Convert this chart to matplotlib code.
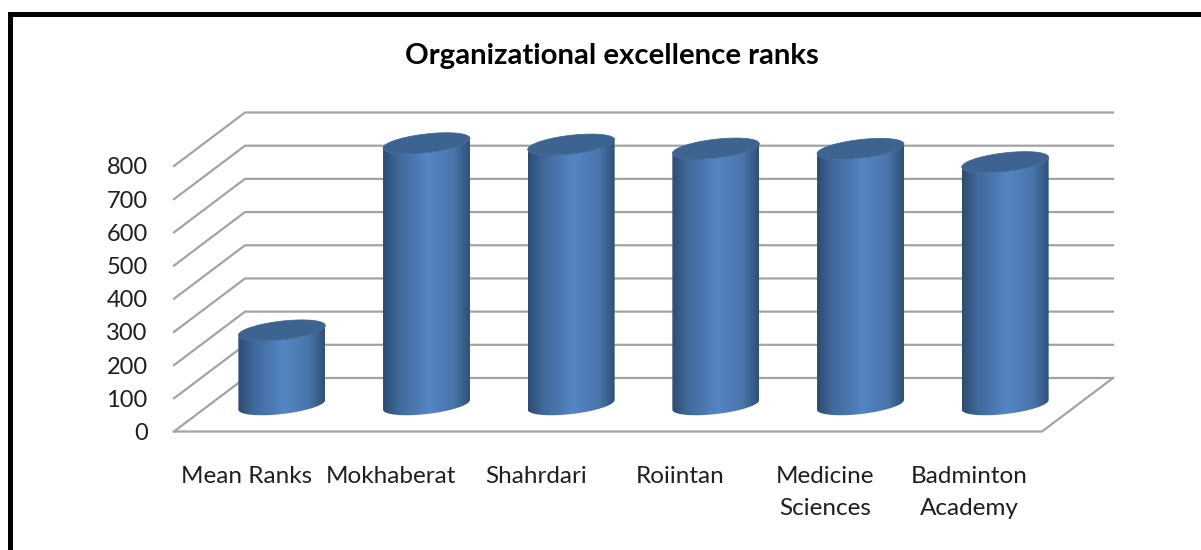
import numpy as np
from matplotlib import pyplot as plt
from matplotlib.lines import Line2D
from matplotlib.patches import PathPatch
from matplotlib.path import Path
from matplotlib.colors import LinearSegmentedColormap

categories = ["Mean Ranks", "Mokhaberat", "Shahrdari", "Roiintan",
              "Medicine\nSciences", "Badminton\nAcademy"]
values = [224, 788, 784, 772, 771, 731]
yticks = [0, 100, 200, 300, 400, 500, 600, 700, 800]

W, H = 1201, 550
GRID = "#a3a3a3"
TEXT = "#1f1f1f"
TOP_COLOR = "#3d6490"

# size of the 3d depth, in data units
DEPTH_X = 71 / (868 / 6)
DEPTH_Y = 53.5 * 800 / 265.5

plt.rcParams['font.family'] = ['Lato', 'DejaVu Sans']

fig = plt.figure(figsize=(W / 100, H / 100), dpi=100)
ax = fig.add_axes([174 / W, 1 - 431.5 / H, 868 / W, 265.5 / H])
ax.set_xlim(0, len(categories))
ax.set_ylim(0, 800)

# frame of the picture, only top and left are inside the image
fig.add_artist(Line2D([10.2 / W, 10.2 / W, 1], [0, 1 - 13.5 / H, 1 - 13.5 / H],
                      transform=fig.transFigure, color="black", lw=3.6,
                      solid_joinstyle='miter'))

for s in ax.spines.values():
    s.set_visible(False)
ax.patch.set_visible(False)

# back wall and left side
n = len(categories)
for t in yticks:
    ax.plot([0, DEPTH_X, n + DEPTH_X], [t, t + DEPTH_Y, t + DEPTH_Y],
            color=GRID, lw=1.6, clip_on=False, zorder=1)
# floor
ax.plot([0, n, n + DEPTH_X], [0, 0, DEPTH_Y], color=GRID, lw=1.6, clip_on=False, zorder=1)

ax.set_yticks(yticks)
ax.set_yticklabels([str(t) for t in yticks], fontsize=17, color=TEXT)
ax.tick_params(axis='y', length=0, pad=19)
ax.set_xticks(np.arange(n) + 0.5)
ax.set_xticklabels(categories, fontsize=17.5, color=TEXT, linespacing=1.62)
ax.tick_params(axis='x', length=0, pad=25)

cmap = LinearSegmentedColormap.from_list(
    "cyl", [(0, "#2c4c72"), (0.18, "#40699b"), (0.52, "#5585c6"),
            (0.82, "#4875a9"), (1, "#2f5076")])
grad = np.linspace(0, 1, 256).reshape(1, -1)

# ellipse of a cylinder section in the floor plane
theta = np.linspace(0, 2 * np.pi, 180, endpoint=False)
rad_x = 38.6 * 6 / 868
skew_x = 20 * 6 / 868
rad_y = DEPTH_Y * 10.5 / 53.5
edge = np.hypot(rad_x, skew_x)


def ring(cx, cy):
    x = cx + rad_x * np.cos(theta) + skew_x * np.sin(theta)
    y = cy + rad_y * np.sin(theta)
    return x, y


for i, v in enumerate(values):
    cx = i + 0.5 + DEPTH_X / 2
    cy = DEPTH_Y / 2
    xb, yb = ring(cx, cy)
    xt, yt = ring(cx, cy + v)

    # silhouette: front half of the lower ring, back along the upper ring
    il = np.argmin(xb)
    ir = np.argmax(xb)
    idx = np.arange(il, ir + 181) % 180
    body = np.column_stack([np.r_[xb[idx], xt[idx][::-1], xb[idx][0]],
                            np.r_[yb[idx], yt[idx][::-1], yb[idx][0]]])
    clip = PathPatch(Path(body), transform=ax.transData, fc="none", ec="none")
    ax.add_patch(clip)
    im = ax.imshow(grad, cmap=cmap, aspect='auto', interpolation='bilinear',
                   extent=(cx - edge, cx + edge, 0, cy + v + 40), zorder=3)
    im.set_clip_path(clip)
    im.set_clip_box(fig.bbox)  # tops stick out of the axes
    ax.fill(xt, yt, color=TOP_COLOR, zorder=4, clip_on=False, lw=0.5)

ax.set_xlim(0, n)
ax.set_ylim(0, 800)

fig.text(612 / W, 1 - 56 / H, "Organizational excellence ranks", fontsize=21.2,
         fontweight='bold', color="black", ha='center', va='center')

fig.savefig("out.png", dpi=100)
